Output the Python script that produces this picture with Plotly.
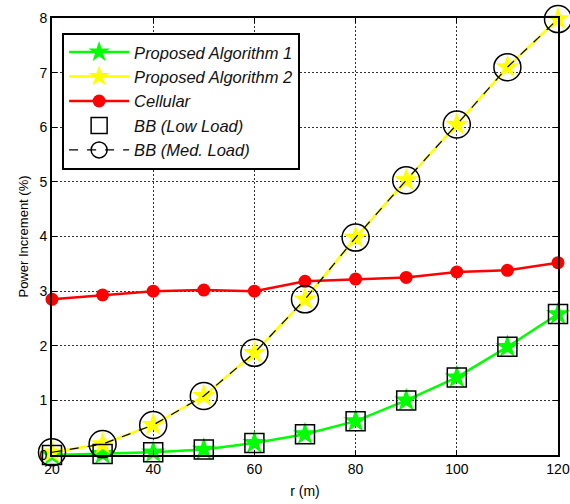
import plotly.graph_objects as go

r = [20, 30, 40, 50, 60, 70, 80, 90, 100, 110, 120]
alg1 = [0.0, 0.02, 0.05, 0.10, 0.22, 0.38, 0.62, 1.00, 1.42, 1.98, 2.58]
alg2 = [0.05, 0.20, 0.55, 1.08, 1.87, 2.85, 3.98, 5.03, 6.05, 7.10, 7.98]
cellular = [2.85, 2.93, 3.00, 3.02, 3.00, 3.18, 3.22, 3.25, 3.35, 3.38, 3.52]
bb_low = [0.0, 0.02, 0.05, 0.10, 0.22, 0.38, 0.62, 1.00, 1.42, 1.98, 2.58]
bb_med = [0.05, 0.20, 0.55, 1.08, 1.87, 2.85, 3.98, 5.03, 6.05, 7.10, 7.98]

fig = go.Figure()
fig.add_trace(go.Scatter(x=r, y=alg1, name="Proposed Algorithm 1", mode="lines+markers",
                         line=dict(color="#00ff00", width=2.5),
                         marker=dict(symbol="star", size=18, color="#00ff00"), cliponaxis=False))
fig.add_trace(go.Scatter(x=r, y=alg2, name="Proposed Algorithm 2", mode="lines+markers",
                         line=dict(color="#ffff00", width=2.5),
                         marker=dict(symbol="star", size=18, color="#ffff00"), cliponaxis=False))
fig.add_trace(go.Scatter(x=r, y=cellular, name="Cellular", mode="lines+markers",
                         line=dict(color="#ff0000", width=2.5),
                         marker=dict(symbol="circle", size=13, color="#ff0000"), cliponaxis=False))
fig.add_trace(go.Scatter(x=r, y=bb_low, name="BB (Low Load)", mode="markers",
                         marker=dict(symbol="square-open", size=19, color="black",
                                     line=dict(width=1.5, color="black")), cliponaxis=False))
fig.add_trace(go.Scatter(x=r, y=bb_med, name="BB (Med. Load)", mode="lines+markers",
                         line=dict(color="black", width=1.2, dash="dash"),
                         marker=dict(symbol="circle-open", size=27, color="black",
                                     line=dict(width=1.5, color="black")), cliponaxis=False))

axis_common = dict(showline=True, linecolor="black", linewidth=2, mirror="ticks",
                   ticks="inside", ticklen=5, tickcolor="black",
                   showgrid=True, gridcolor="#333", griddash="2px,2px", gridwidth=1.2,
                   zeroline=False, automargin=False,
                   tickfont=dict(family="Liberation Sans, Arial", size=14, color="black"))

fig.update_xaxes(range=[20, 120], tickvals=[20, 40, 60, 80, 100, 120],
                 title=dict(text="r (m)", font=dict(family="Liberation Sans, Arial", size=14, color="black"),
                            standoff=10),
                 **axis_common)
fig.update_yaxes(range=[0, 8], tickvals=[0, 1, 2, 3, 4, 5, 6, 7, 8],
                 title=dict(text="Power Increment (%)", font=dict(family="Liberation Sans, Arial", size=13, color="black"),
                            standoff=8),
                 **axis_common)

fig.update_layout(
    width=570, height=504,
    margin=dict(l=52, r=12, t=18, b=49),
    paper_bgcolor="white", plot_bgcolor="white",
    showlegend=True,
    legend=dict(x=0.02, y=0.966, xanchor="left", yanchor="top",
                bgcolor="white", bordercolor="black", borderwidth=2,
                font=dict(family="Liberation Sans, Arial", size=16.5, color="#111", style="italic"),
                itemwidth=60, tracegroupgap=0),
)

fig.write_html("out.html")
